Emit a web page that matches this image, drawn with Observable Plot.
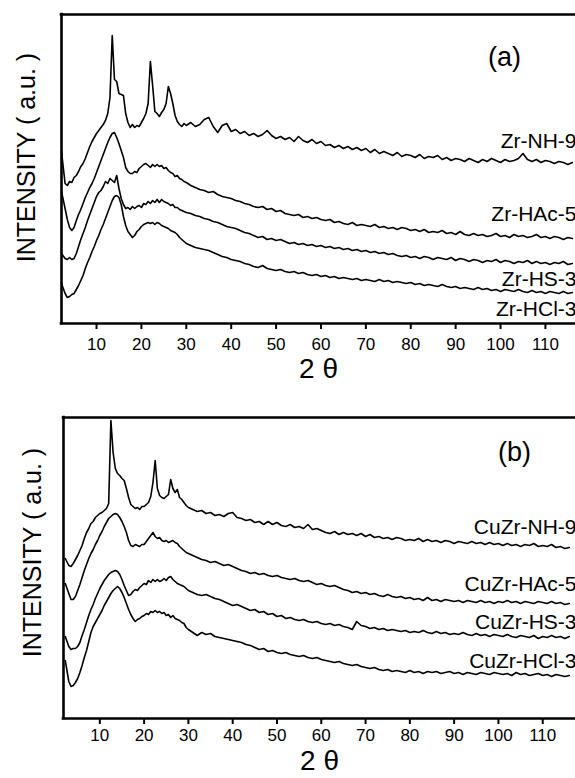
<!DOCTYPE html>
<html><head><meta charset="utf-8">
<script src="https://cdn.jsdelivr.net/npm/d3@7"></script>
<script src="https://cdn.jsdelivr.net/npm/@observablehq/plot@0.6"></script>
<style>
html,body{margin:0;padding:0;background:#fff;overflow:hidden;}
#chart svg{display:block;}
</style></head><body><div id="chart"></div>
<script>
// 2-theta sampling grid (degrees), shared by every pattern
const twoTheta = [
  2.2, 3, 3.5, 4, 4.5, 5, 5.5, 6, 6.5, 7,
  7.5, 8, 8.5, 9, 9.5, 10, 10.5, 11, 11.5, 12,
  12.5, 13, 13.5, 14, 14.5, 15, 15.5, 16, 16.5, 17,
  17.5, 18, 18.5, 19, 19.5, 20, 20.5, 21, 21.5, 22,
  22.5, 23, 23.5, 24, 24.5, 25, 25.5, 26, 26.5, 27,
  27.5, 28, 28.5, 29, 29.5, 30,
  31, 32, 33, 34, 35, 36, 37, 38, 39, 40,
  41, 42, 43, 44, 45, 46, 47, 48, 49, 50,
  51, 52, 53, 54, 55, 56, 57, 58, 59, 60,
  61, 62, 63, 64, 65, 66, 67, 68, 69, 70,
  71, 72, 73, 74, 75, 76, 77, 78, 79, 80,
  81, 82, 83, 84, 85, 86, 87, 88, 89, 90,
  91, 92, 93, 94, 95, 96, 97, 98, 99, 100,
  101, 102, 103, 104, 105, 106, 107, 108, 109, 110,
  111, 112, 113, 114, 115, 116
];

// Panel (a) intensities (arbitrary units, offset stacked as in the figure)
const zrNH9 = [
  172, 140, 138, 142, 141, 146, 148, 152, 157, 160,
  165, 171, 177, 182, 186, 190, 193, 196, 199, 203,
  210, 226, 288, 244, 242, 230, 229, 228, 210, 201,
  196, 199, 196, 198, 197, 201, 205, 210, 220, 262,
  238, 212, 210, 207, 211, 214, 220, 237, 230, 220,
  208, 202, 199, 197, 200, 198,
  201, 197, 199, 204, 206, 197, 191, 198, 200, 192,
  194, 190, 192, 188, 190, 187, 189, 193, 188, 185,
  187, 184, 186, 182, 187, 183, 181, 184, 180, 182,
  178, 179, 176, 178, 175, 177, 174, 176, 173, 175,
  171, 174, 170, 172, 170, 168, 171, 167, 169, 168,
  166, 169, 165, 167, 166, 168, 164, 166, 163, 165,
  164, 162, 165, 163, 161, 164, 162, 165, 163, 161,
  164, 162, 163, 165, 170, 164, 162, 164, 161, 163,
  162, 160, 162, 161, 159, 161
];
const zrHAc5 = [
  132, 115, 104, 96, 93, 96, 103, 109, 114, 120,
  126, 131, 136, 140, 145, 151, 157, 163, 169, 175,
  181, 186, 190, 191, 186, 180, 173, 166, 156, 152,
  150, 150, 152, 151, 155, 157, 159, 160, 158, 156,
  159, 157, 159, 157, 158, 155, 156, 153, 151, 150,
  147, 148, 145, 144, 142, 141,
  138, 136, 134, 133, 131, 132, 129, 127, 126, 125,
  123, 122, 120, 119, 117, 116, 117, 114, 115, 112,
  113, 110, 109, 108, 109, 106, 107, 105, 106, 104,
  103, 104, 101, 102, 100, 99, 101, 98, 99, 98,
  97, 99, 96, 97, 95, 96, 94, 96, 95, 93,
  94, 92, 94, 91, 92, 91, 93, 90, 91, 89,
  92, 89, 88, 90, 88, 89, 87, 88, 90, 87,
  88, 86, 89, 87, 88, 86, 87, 89, 86, 87,
  85, 87, 86, 84, 86, 85
];
const zrHS3 = [
  70, 65, 64, 66, 64, 65, 70, 77, 84, 90,
  96, 103, 109, 115, 121, 127, 131, 133, 137, 142,
  140, 145, 143, 141, 148, 135, 125, 119, 115, 116,
  114, 117, 115, 117, 118, 116, 120, 119, 122, 120,
  123, 121, 124, 121, 124, 122, 121, 120, 118, 119,
  116, 116, 114, 113, 112, 111,
  110, 108, 107, 105, 104, 102, 101, 99, 97, 96,
  95, 93, 91, 90, 88, 86, 87, 84, 85, 83,
  84, 82, 80, 81, 79, 80, 78, 79, 77, 78,
  76, 77, 75, 76, 74, 75, 73, 74, 72, 73,
  71, 72, 70, 71, 69, 70, 68, 67, 68, 66,
  67, 65, 67, 66, 64, 66, 65, 64, 66, 63,
  65, 64, 62, 64, 63, 61, 63, 62, 64, 61,
  63, 62, 60, 62, 61, 63, 60, 62, 60, 61,
  59, 61, 60, 62, 59, 60
];
const zrHCl3 = [
  40, 30, 26, 27, 29, 30, 34, 38, 43, 48,
  55, 61, 66, 72, 77, 83, 88, 94, 99, 105,
  111, 117, 123, 127, 128, 126, 119, 107, 98, 92,
  89, 86, 88, 92, 94, 97, 99, 100, 101, 100,
  101, 99, 101, 100, 98, 97, 96, 95, 93, 92,
  91, 89, 86, 84, 82, 80,
  78, 76, 75, 74, 73, 71, 69, 67, 66, 64,
  63, 62, 60, 59, 57, 56, 58, 55, 54, 53,
  54, 52, 51, 52, 50, 51, 49, 48, 49, 47,
  48, 46, 47, 45, 46, 45, 44, 45, 43, 44,
  43, 42, 44, 42, 43, 41, 42, 41, 40, 41,
  39, 40, 38, 39, 38, 37, 39, 37, 36, 37,
  35, 36, 35, 34, 36, 34, 35, 33, 34, 32,
  34, 33, 32, 34, 32, 31, 33, 31, 32, 30,
  32, 31, 30, 32, 30, 31
];

// Panel (b) intensities
const cuzrNH9 = [
  160, 153, 152, 155, 159, 163, 168, 173, 180, 186,
  190, 195, 197, 201, 203, 205, 206, 208, 210, 215,
  298, 266, 250, 245, 243, 240, 238, 230, 221, 214,
  212, 210, 211, 209, 212, 212, 214, 216, 222, 236,
  258, 230, 223, 221, 220, 222, 224, 239, 230, 226,
  229, 221, 219, 216, 213, 211,
  209, 207, 208, 205, 206, 203, 204, 202, 205, 206,
  201, 200, 198, 199, 196, 197, 194, 197, 194, 196,
  193, 192, 194, 191, 192, 190, 194, 189, 190, 188,
  186, 185, 187, 184, 186, 184, 185, 183, 185, 182,
  184, 181, 182, 180, 181, 179, 181, 180, 178, 179,
  178, 180, 177, 179, 177, 178, 176, 178, 177, 175,
  177, 176, 175, 177, 175, 176, 174, 176, 174, 175,
  173, 175, 173, 174, 172, 174, 173, 175, 172, 173,
  172, 174, 171, 172, 170, 171
];
const cuzrHAc5 = [
  135, 125, 119, 119, 122, 128, 134, 141, 148, 154,
  160, 165, 169, 174, 178, 183, 187, 192, 196, 200,
  202, 204, 205, 204, 201, 197, 192, 186, 178, 173,
  172, 174, 173, 172, 174, 174, 177, 180, 183, 186,
  182, 180, 181, 178, 177, 178, 176, 177, 178, 176,
  175, 172, 170, 168, 166, 165,
  163, 161, 159, 158, 156, 157, 155, 153, 154, 152,
  150, 148, 147, 145, 146, 144, 145, 143, 142, 143,
  141, 140, 139, 140, 138, 137, 138, 136, 134, 135,
  133, 132, 133, 131, 129, 128, 126, 127, 125, 126,
  124, 125, 123, 122, 124, 122, 121, 122, 120, 121,
  119, 120, 118, 121, 118, 119, 117, 119, 118, 117,
  118, 116, 118, 117, 116, 118, 116, 117, 115, 117,
  116, 118, 116, 117, 115, 117, 116, 115, 117, 116,
  115, 117, 115, 116, 114, 115
];
const cuzrHS3 = [
  82, 72, 69, 70, 70, 72, 76, 83, 89, 96,
  103, 109, 114, 120, 125, 130, 134, 138, 141, 144,
  146, 147, 148, 147, 144, 139, 133, 128, 123, 124,
  127, 129, 128, 131, 133, 135, 134, 138, 136, 139,
  137, 139, 137, 138, 140, 138, 141, 142, 139, 137,
  135, 134, 133, 132, 130, 128,
  126, 124, 123, 124, 122, 120, 119, 117, 115, 113,
  114, 112, 110, 108, 109, 106, 107, 104, 105, 102,
  103, 100, 101, 99, 98, 99, 97, 96, 97, 95,
  94, 95, 93, 94, 92, 91, 89, 97, 93, 92,
  90, 91, 89, 90, 88, 89, 88, 87, 88, 86,
  87, 86, 88, 86, 85, 87, 85, 86, 84, 85,
  84, 86, 84, 83, 85, 83, 84, 82, 84, 83,
  82, 84, 82, 81, 83, 82, 81, 83, 80, 82,
  81, 83, 81, 82, 80, 82
];
const cuzrHCl3 = [
  58, 37, 32, 33, 36, 40, 46, 53, 61, 68,
  77, 86, 92, 96, 100, 104, 108, 113, 117, 121,
  125, 128, 130, 132, 130, 126, 121, 115, 109, 104,
  100, 97, 99, 100, 102, 103, 105, 104, 107, 106,
  108, 106, 107, 105, 106, 103, 104, 101, 103, 100,
  99, 98, 96, 95, 91, 89,
  86, 83, 86, 84, 85, 82, 81, 80, 79, 78,
  77, 76, 74, 73, 71, 69, 70, 67, 68, 66,
  65, 66, 64, 63, 62, 63, 61, 60, 61, 59,
  58, 57, 56, 57, 55, 54, 53, 54, 52, 51,
  50, 51, 49, 48, 49, 47, 48, 47, 46, 48,
  46, 47, 45, 47, 46, 47, 45, 46, 47, 45,
  46, 44, 46, 45, 44, 46, 45, 44, 46, 45,
  44, 45, 43, 46, 44, 45, 43, 44, 45, 43,
  44, 42, 44, 43, 42, 43
];

const xTicks = [10, 20, 30, 40, 50, 60, 70, 80, 90, 100, 110];
const labelsA = ["Zr-NH-9", "Zr-HAc-5", "Zr-HS-3", "Zr-HCl-3"];
const labelsB = ["CuZr-NH-9", "CuZr-HAc-5", "CuZr-HS-3", "CuZr-HCl-3"];
const yTitle = "INTENSITY ( a.u. )";
const xTitle = "2 θ";

const FONT = "'Liberation Sans', Arial, Helvetica, sans-serif";

function panel(cfg) {
  const marks = [];
  cfg.series.forEach(ys => {
    const rows = twoTheta.map((x, i) => ({x, y: ys[i]})).filter(d => d.y != null);
    marks.push(Plot.line(rows, {x: "x", y: "y", stroke: "#000", strokeWidth: 1.6, strokeLinejoin: "round"}));
  });
  marks.push(Plot.ruleX([cfg.xDomain[0]], {stroke: "#000", strokeWidth: 2.6, strokeLinecap: "square"}));
  marks.push(Plot.ruleY([0], {stroke: "#000", strokeWidth: 2.6, strokeLinecap: "square"}));
  marks.push(Plot.ruleY([cfg.yMax], {stroke: "#000", strokeWidth: 2.6, strokeLinecap: "square"}));
  marks.push(Plot.axisX(xTicks, {tickSize: 6, tickPadding: cfg.tickPadding, fontSize: 17, strokeWidth: 2, label: null}));
  marks.push(Plot.text(cfg.labels, {y: cfg.labelY, frameAnchor: "right", textAnchor: "end", lineAnchor: "bottom", fontSize: 21, dx: 1, fill: "#000"}));
  marks.push(Plot.text([yTitle], {y: [cfg.yTitleY], frameAnchor: "left", textAnchor: "middle", lineAnchor: "middle", dx: cfg.yTitleDx, rotate: -90, fontSize: 25, fill: "#000"}));
  marks.push(Plot.text([xTitle], {frameAnchor: "bottom", textAnchor: "middle", lineAnchor: "middle", dy: cfg.xTitleDy, fontSize: 28, fill: "#000"}));
  marks.push(Plot.text([cfg.tag], {frameAnchor: "top-left", textAnchor: "middle", lineAnchor: "middle", dx: cfg.tagDx, dy: cfg.tagDy, fontSize: 27, fill: "#000"}));
  return Plot.plot({
    width: 575,
    height: cfg.height,
    marginTop: cfg.marginTop,
    marginBottom: cfg.marginBottom,
    marginLeft: cfg.marginLeft,
    marginRight: 0,
    style: {fontFamily: FONT, background: "#fff", color: "#000", overflow: "visible"},
    x: {domain: cfg.xDomain},
    y: {domain: [0, cfg.yMax], axis: null},
    marks
  });
}

const chart = document.getElementById("chart");
chart.append(panel({
  series: [zrNH9, zrHAc5, zrHS3, zrHCl3],
  labels: labelsA,
  labelY: [176, 103, 38, 8],
  tag: "(a)",
  height: 388, marginTop: 14, marginBottom: 65, marginLeft: 61,
  xDomain: [2.2, 116.7], yMax: 309,
  tickPadding: 8, xTitleDy: 46,
  yTitleY: 166, yTitleDx: -35,
  tagDx: 443, tagDy: 43
}));
chart.append(panel({
  series: [cuzrNH9, cuzrHAc5, cuzrHS3, cuzrHCl3],
  labels: labelsB,
  labelY: [185, 128, 90, 51],
  tag: "(b)",
  height: 390, marginTop: 29, marginBottom: 60, marginLeft: 63,
  xDomain: [1.8, 117.4], yMax: 301,
  tickPadding: 4, xTitleDy: 43,
  yTitleY: 166, yTitleDx: -31,
  tagDx: 451, tagDy: 35
}));
</script></body></html>
